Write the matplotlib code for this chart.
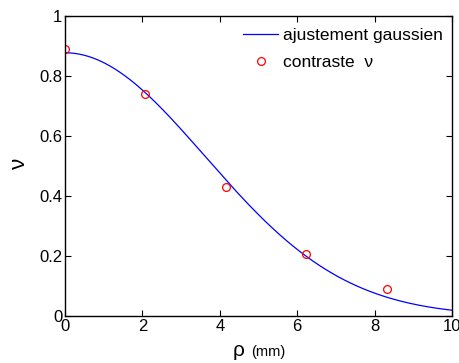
import numpy as np
import matplotlib
matplotlib.use('Agg')
import matplotlib.pyplot as plt

plt.rcParams['font.family'] = ['Liberation Sans', 'DejaVu Sans']
plt.rcParams['font.size'] = 12

# données mesurées : contraste en fonction de rho (mm)
rho = [0.0, 2.08, 4.16, 6.24, 8.32]
contraste = [0.889, 0.739, 0.431, 0.207, 0.091]

# ajustement gaussien (moindres carrés sur A et sigma)
r = np.array(rho)
c = np.array(contraste)
best = None
for s in np.linspace(2.0, 6.0, 4001):
    g = np.exp(-r**2 / (2 * s**2))
    A = (g @ c) / (g @ g)
    err = np.sum((c - A * g)**2)
    if best is None or err < best[0]:
        best = (err, A, s)
_, A_fit, s_fit = best
x_fit = np.linspace(0, 10, 300)
y_fit = A_fit * np.exp(-x_fit**2 / (2 * s_fit**2))

fig = plt.figure(figsize=(4.6, 3.63), dpi=100)
ax = fig.add_axes([65/460, 1 - 316/363, 387/460, 300/363])

ax.plot(x_fit, y_fit, color='#0000ff', lw=0.9, label='ajustement gaussien')
ax.plot(rho, contraste, 'o', mfc='none', mec='#ff0000', ms=5.6, mew=0.9,
        label='contraste  ν')

ax.set_xlim(0, 10)
ax.set_ylim(0, 1)
ax.set_xticks([0, 2, 4, 6, 8, 10])
ax.set_yticks([0, 0.2, 0.4, 0.6, 0.8, 1])
ax.set_yticklabels(['0', '0.2', '0.4', '0.6', '0.8', '1'])
ax.tick_params(direction='in', length=4, width=0.8, top=True, right=True,
               labelsize=12, pad=2)
for sp in ax.spines.values():
    sp.set_linewidth(1.0)

# étiquettes des axes
fig.text(239/460, 1 - 350/363, 'ρ', fontsize=15, ha='center', va='center')
fig.text(251/460, 1 - 352/363, '(mm)', fontsize=10.5, ha='left', va='center')
fig.text(19/460, 1 - 163/363, 'ν', fontsize=16, ha='center', va='center',
         rotation=90)

leg = ax.legend(loc='upper right', frameon=False, fontsize=12.5,
                bbox_to_anchor=(1 - 2/387, 1 - 5/300),
                handlelength=2.0, borderaxespad=0.1, borderpad=0.3,
                labelspacing=0.7, handletextpad=0.3)

fig.savefig('out.png', dpi=100)
